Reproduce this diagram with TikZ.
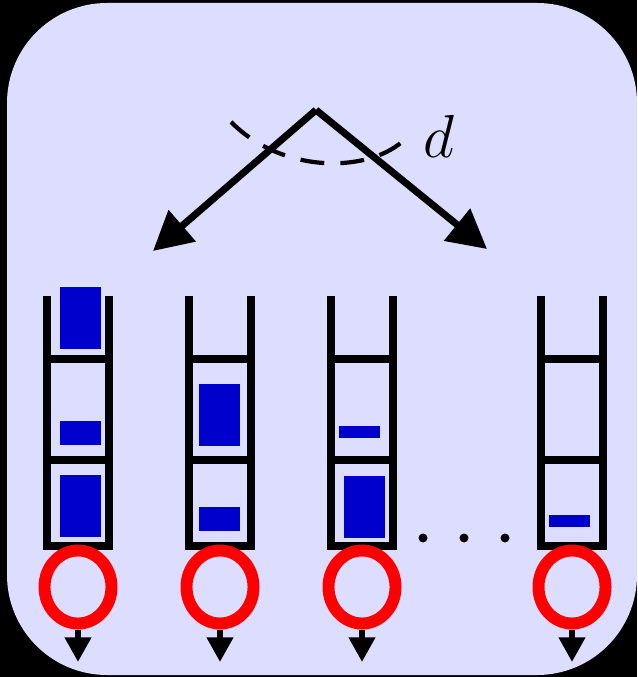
\documentclass[tikz,border=0pt]{standalone}
\usepackage{tikz}
\usetikzlibrary{shapes, positioning, calc, arrows.meta}

\definecolor{panelbg}{HTML}{DDDDFF}
\definecolor{itemblue}{HTML}{0000CC}

\begin{document}
\begin{tikzpicture}[x=0.01cm, y=-0.01cm]
  \newcommand\binhalf{30.75}
  \newcommand\bintop{296}
  \newcommand\binbottom{546}
  \newcommand\itemwidth{0.41cm}

  \tikzset{ptr/.style={line width=2pt, -{Triangle[length=11pt, width=11.4pt]}}}
  \tikzset{outptr/.style={line width=1.7pt, -{Triangle[length=7pt, width=7.2pt]}}}
  \tikzset{wall/.style={line width=2.3pt, line join=miter}}
  \tikzset{item/.style={fill=itemblue, inner sep=0pt, minimum width=\itemwidth}}
  \tikzset{ring/.style={ellipse, draw=red, line width=3.4pt, inner sep=0pt,
      minimum width=0.67cm, minimum height=0.73cm}}

  % background panel
  \fill[black] (0,0) rectangle (637,677);
  \useasboundingbox (0,0) rectangle (637,677);
  \fill[panelbg, rounded corners=1cm] (7,3) rectangle (637,675);

  % splitting into d directions
  \coordinate (apex) at (316,110);
  \coordinate (left-tip) at (153,251);
  \coordinate (right-tip) at (487,249);
  \draw[ptr] (apex) -- (left-tip);
  \draw[ptr] (apex) -- (right-tip);
  \coordinate (arc-start) at (231,122);
  \coordinate (arc-end) at (405,139);
  \draw[line width=1.2pt, dash pattern=on 6.8pt off 4.6pt]
    (arc-start) .. controls (285,176) and (372,172) .. (arc-end);
  \node[right=0.18cm of arc-end, inner sep=0pt, yshift=0.6pt] (dlabel)
    {\fontsize{18.5}{21}\selectfont$d$};

  % bins, one queue each
  \foreach \bx/\id in {78/1, 220/2, 362/3, 572/4}{
    \draw[wall] (\bx-\binhalf,\bintop) -- (\bx-\binhalf,\binbottom)
      -- (\bx+\binhalf,\binbottom) -- (\bx+\binhalf,\bintop);
    \draw[wall] (\bx-\binhalf,359) -- (\bx+\binhalf,359);
    \draw[wall] (\bx-\binhalf,460) -- (\bx+\binhalf,460);
    \node[ring] (ring-\id) at (\bx,587) {};
    \coordinate (out-\id) at (\bx,662);
    \draw[outptr] (ring-\id.south) -- (out-\id);
  }

  % stored items
  \node[item, minimum height=0.62cm] (b1-a) at (80.5,318) {};
  \node[item, minimum height=0.24cm] (b1-b) at (80.5,433) {};
  \node[item, minimum height=0.62cm] (b1-c) at (80.5,506) {};
  \node[item, minimum height=0.62cm] (b2-a) at (219.5,415) {};
  \node[item, minimum height=0.24cm] (b2-b) at (219.5,519) {};
  \node[item, minimum height=0.12cm] (b3-a) at (359.5,432) {};
  \node[item, minimum height=0.62cm] (b3-b) at (364.5,507) {};
  \node[item, minimum height=0.12cm] (b4-a) at (569.5,521) {};

  % more bins in between
  \foreach \dx/\id in {423/1, 464/2, 505/3}{
    \fill (\dx,538) circle (4.5) coordinate (dot-\id);
  }
\end{tikzpicture}
\end{document}
